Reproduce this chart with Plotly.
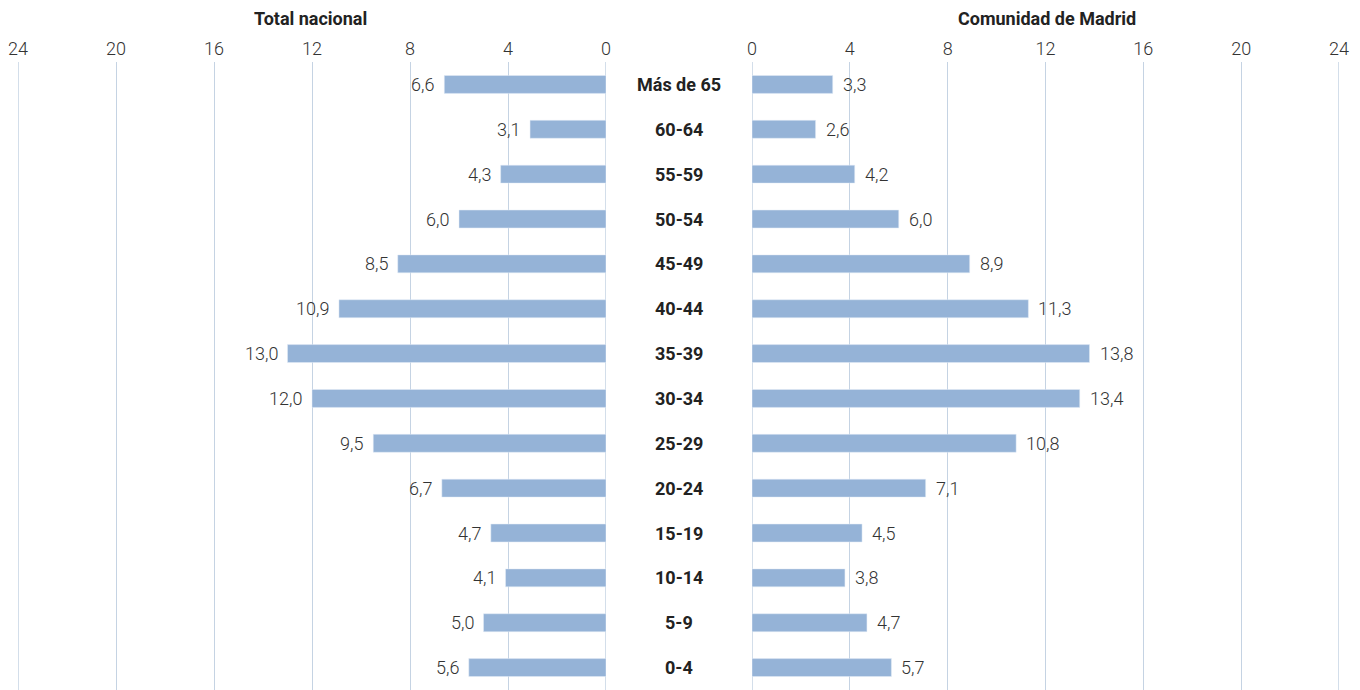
import plotly.graph_objects as go

categories = ["Más de 65", "60-64", "55-59", "50-54", "45-49", "40-44", "35-39",
              "30-34", "25-29", "20-24", "15-19", "10-14", "5-9", "0-4"]
total_nacional = [6.6, 3.1, 4.3, 6.0, 8.5, 10.9, 13.0, 12.0, 9.5, 6.7, 4.7, 4.1, 5.0, 5.6]
comunidad_madrid = [3.3, 2.6, 4.2, 6.0, 8.9, 11.3, 13.8, 13.4, 10.8, 7.1, 4.5, 3.8, 4.7, 5.7]
tick_vals = [0, 4, 8, 12, 16, 20, 24]
titles = ["Total nacional", "Comunidad de Madrid"]

FONT = "Roboto, Arial, sans-serif"
BAR = "#95b3d7"
GRID = "#c5d3e3"
TXT = "#333333"
W, H = 1352, 682  # page body has an 8px margin


def fmt(v):
    return f"{v:.1f}".replace(".", ",")


fig = go.Figure()
fig.add_trace(go.Bar(
    x=total_nacional, y=categories, orientation="h", marker_color=BAR, width=0.4,
    xaxis="x", yaxis="y", hoverinfo="x+y"))
fig.add_trace(go.Bar(
    x=comunidad_madrid, y=categories, orientation="h", marker_color=BAR, width=0.4,
    xaxis="x2", yaxis="y2", hoverinfo="x+y"))

axis_common = dict(tickvals=tick_vals, side="top", showgrid=True,
                   gridcolor=GRID, gridwidth=1, zeroline=False, showline=False,
                   ticks="", ticklabelstandoff=2,
                   tickfont=dict(size=18, color=TXT, family=FONT, weight=300), fixedrange=True)

fig.update_layout(
    width=W, height=H,
    margin=dict(l=0, r=0, t=54, b=0, autoexpand=False),
    paper_bgcolor="white", plot_bgcolor="white",
    showlegend=False,
    font=dict(family=FONT, color=TXT),
    xaxis=dict(domain=[10/W, 598/W], range=[24, 0], **axis_common),
    xaxis2=dict(domain=[744/W, 1331/W], anchor="y2", range=[0, 24], **axis_common),
    yaxis=dict(domain=[0, 1], categoryorder="array", categoryarray=categories[::-1],
               showticklabels=False, showgrid=False, zeroline=False, fixedrange=True),
    yaxis2=dict(domain=[0, 1], anchor="x2", categoryorder="array", categoryarray=categories[::-1],
                showticklabels=False, showgrid=False, zeroline=False, fixedrange=True),
)

# edge gridlines (plotly omits gridlines lying on the plot edge)
shapes = []
for xr in ("x", "x2"):
    for xv in (tick_vals[0], tick_vals[-1]):
        shapes.append(dict(type="line", xref=xr, yref="paper", x0=xv, x1=xv, y0=0, y1=1,
                           line=dict(color=GRID, width=1.5), layer="below"))
fig.update_layout(shapes=shapes)

annotations = []
for c, vl, vr in zip(categories, total_nacional, comunidad_madrid):
    annotations.append(dict(x=671/W, xref="paper", y=c, yref="y", text=f"<b>{c}</b>",
                            showarrow=False, font=dict(size=18, color="#222222", family=FONT),
                            xanchor="center", yanchor="middle"))
    annotations.append(dict(x=vl, xref="x", y=c, yref="y", text=fmt(vl), showarrow=False,
                            xanchor="right", yanchor="middle", xshift=-8,
                            font=dict(size=18, color=TXT, family=FONT, weight=300)))
    annotations.append(dict(x=vr, xref="x2", y=c, yref="y2", text=fmt(vr), showarrow=False,
                            xanchor="left", yanchor="middle", xshift=8,
                            font=dict(size=18, color=TXT, family=FONT, weight=300)))
annotations.append(dict(x=302/W, xref="paper", y=1, yref="paper", yshift=44,
                        text="<b>" + titles[0] + "</b>", showarrow=False,
                        font=dict(size=18, color="#222222", family=FONT), xanchor="center", yanchor="middle"))
annotations.append(dict(x=1039/W, xref="paper", y=1, yref="paper", yshift=44,
                        text="<b>" + titles[1] + "</b>", showarrow=False,
                        font=dict(size=18, color="#222222", family=FONT), xanchor="center", yanchor="middle"))
fig.update_layout(annotations=annotations)

fig.write_html("out.html")
